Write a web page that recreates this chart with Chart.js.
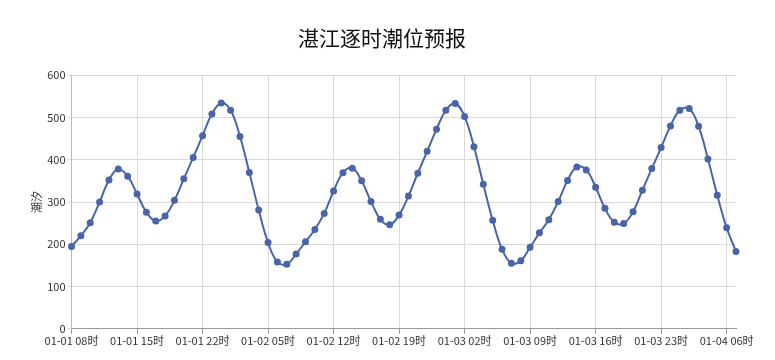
<!DOCTYPE html>
<html>
<head>
<meta charset="utf-8">
<script src="https://cdn.jsdelivr.net/npm/chart.js@4/dist/chart.umd.min.js"></script>
<style>
  html, body { margin: 0; padding: 0; background: #fff; }
  #wrap { width: 775px; height: 360px; }
</style>
</head>
<body>
<div id="wrap"><canvas id="tideChart"></canvas></div>
<script>
// hourly labels: 01-01 08时 .. 01-04 07时
const days = ['01-01', '01-02', '01-03', '01-04'];
const hours = [];
for (let i = 0; i < 72; i++) {
    const h = 8 + i;
    const d = Math.floor(h / 24);
    const hh = String(h % 24).padStart(2, '0');
    hours.push(days[d] + ' ' + hh + '时');
}

const tideValues = [
    195, 220, 251, 300, 352, 378, 361, 319, 276, 255, 267, 304,
    355, 405, 457, 508, 534, 517, 455, 370, 281, 204, 158, 153,
    177, 206, 235, 273, 326, 369, 380, 350, 301, 259, 246, 269,
    314, 368, 420, 472, 517, 533, 502, 431, 342, 257, 188, 155,
    161, 193, 227, 258, 301, 351, 383, 376, 335, 285, 252, 249,
    277, 328, 379, 429, 480, 517, 521, 479, 402, 316, 239, 183
];

const labelStep = 7;
const cjkFont = '"Noto Sans CJK SC", "Noto Sans", sans-serif';

const ctx = document.getElementById('tideChart').getContext('2d');
const tideChart = new Chart(ctx, {
    type: 'line',
    data: {
        labels: hours,
        datasets: [{
            label: '潮汐',
            data: tideValues,
            borderColor: '#4a64aa',
            backgroundColor: '#4a64aa',
            borderWidth: 2,
            pointRadius: 2.5,
            pointHoverRadius: 3,
            tension: 0.4,
            fill: false
        }]
    },
    options: {
        responsive: true,
        maintainAspectRatio: false,
        animation: false,
        layout: {
            padding: { left: 28, right: 39, top: 17, bottom: 13 }
        },
        plugins: {
            legend: { display: false },
            tooltip: { enabled: false },
            title: {
                display: true,
                text: '湛江逐时潮位预报',
                color: '#111',
                font: { family: cjkFont, size: 21, weight: 'normal' },
                padding: { top: 8, bottom: 25 }
            }
        },
        scales: {
            x: {
                offset: false,
                grid: {
                    color: (c) => (c.index % labelStep === 0 ? '#d9d9d9' : 'rgba(0,0,0,0)'),
                    tickLength: 5,
                    tickColor: (c) => (c.index % labelStep === 0 ? '#999' : 'rgba(0,0,0,0)')
                },
                border: { color: '#999' },
                ticks: {
                    autoSkip: false,
                    maxRotation: 0,
                    color: '#333',
                    font: { family: cjkFont, size: 11 },
                    padding: 0,
                    callback: function (val, idx) {
                        return idx % labelStep === 0 ? this.getLabelForValue(val) : '';
                    }
                }
            },
            y: {
                min: 0,
                max: 600,
                grid: { color: '#d9d9d9', tickLength: 4 },
                border: { color: '#bbb' },
                ticks: {
                    stepSize: 100,
                    color: '#333',
                    font: { family: cjkFont, size: 11 },
                    padding: 2
                },
                title: {
                    display: true,
                    text: '潮汐',
                    color: '#333',
                    font: { family: cjkFont, size: 11 },
                    padding: 2
                }
            }
        }
    }
});
</script>
</body>
</html>
